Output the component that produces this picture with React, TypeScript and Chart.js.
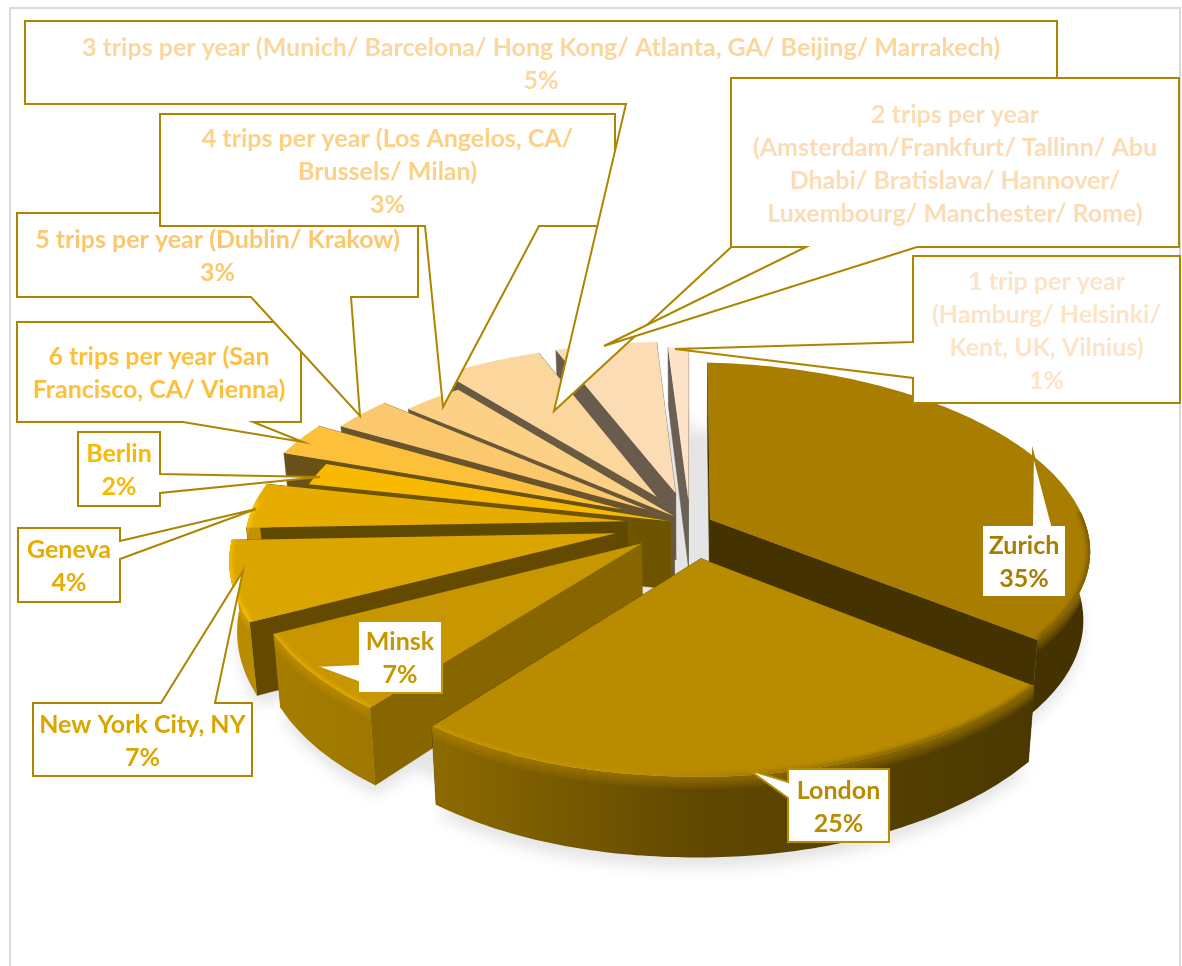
import React, { useEffect, useRef } from "react";
import { Chart, registerables } from "chart.js";

Chart.register(...registerables);

// Share of yearly trips per destination, clockwise from twelve o'clock.
const categories: string[][] = [
  ["Zurich"],
  ["London"],
  ["Minsk"],
  ["New York City, NY"],
  ["Geneva"],
  ["Berlin"],
  ["6 trips per year (San", "Francisco, CA/ Vienna)"],
  ["5 trips per year (Dublin/ Krakow)"],
  ["4 trips per year (Los Angelos, CA/", "Brussels/ Milan)"],
  ["3 trips per year (Munich/ Barcelona/ Hong Kong/ Atlanta, GA/ Beijing/ Marrakech)"],
  ["2 trips per year", "(Amsterdam/Frankfurt/ Tallinn/ Abu", "Dhabi/ Bratislava/ Hannover/", "Luxembourg/ Manchester/ Rome)"],
  ["1 trip per year", "(Hamburg/ Helsinki/", "Kent, UK, Vilnius)"],
];
const shares = [35, 25, 7, 7, 4, 2, 3, 3, 3, 5, 5, 1];
const sharePrinted = [true, true, true, true, true, true, false, true, true, true, false, true];
const explosion = [22, 70, 62, 75, 62, 20, 72, 52, 22, 65, 66, 50];
const faceColors = [
  "#A97D00", "#B88B00", "#C79600", "#DBA500", "#E6AD00", "#F7BA00",
  "#FDC03A", "#FBC86E", "#FCD085", "#FBD69D", "#FBDCB5", "#FDE4C8",
];
const sideShade = [0.4, 0.4, 0.68, 0.45, 0.415, 0.45, 0.42, 0.42, 0.42, 0.42, 0.42, 0.42];

// Callout boxes: [left, top, right, bottom], the box side the pointer leaves from,
// the two pointer base positions along that side, and the pointer tip.
type Side = "top" | "right" | "bottom" | "left";
interface Callout { box: number[]; side: Side; base: number[]; tip: number[] }
const callouts: Callout[] = [
  { box: [982, 525, 1066, 597], side: "top", base: [1032, 1052], tip: [1033, 453] },
  { box: [788, 769, 889, 842], side: "left", base: [782, 798], tip: [749, 770] },
  { box: [358, 621, 442, 693], side: "left", base: [664, 682], tip: [315, 666] },
  { box: [33, 703, 252, 776], side: "top", base: [161, 215], tip: [243, 571] },
  { box: [18, 528, 120, 602], side: "right", base: [541, 559], tip: [256, 509] },
  { box: [78, 432, 160, 506], side: "right", base: [474, 493], tip: [320, 477] },
  { box: [17, 322, 301, 422], side: "bottom", base: [183, 253], tip: [303, 442] },
  { box: [17, 213, 418, 297], side: "bottom", base: [251, 351], tip: [360, 416] },
  { box: [160, 114, 615, 226], side: "bottom", base: [425, 539], tip: [443, 407] },
  { box: [25, 21, 1057, 104], side: "bottom", base: [626, 886], tip: [554, 411] },
  { box: [731, 78, 1179, 247], side: "bottom", base: [806, 917], tip: [604, 346] },
  { box: [913, 256, 1180, 403], side: "left", base: [342, 378], tip: [675, 349] },
];

const BORDER = "#AD8500";
const FONT = 'bold 25px Lato, "Open Sans", sans-serif';
const LINE = 33;

// Tilted, perspective view of the pie plane.
const VIEW = { cx: 690, cy: 524, a: 378, b: 179, k: 0.133, depth: 68, unit: 370, skewY: 8, skewX: 15 };

const project = (x: number, y: number, z: number): [number, number] => {
  const w = 1 + VIEW.k * y;
  const shrink = 1 - z * 0.00025;
  const near = y < 0 ? y * y : 0;
  const lean = x > 0 ? VIEW.skewY * x : VIEW.skewY * 0.6 * x;
  return [
    VIEW.cx + (VIEW.a * x * shrink) / w - VIEW.skewX * near,
    VIEW.cy + (-VIEW.b * y + lean) / w + z / w,
  ];
};

const rgb = (hex: string) => [1, 3, 5].map((i) => parseInt(hex.slice(i, i + 2), 16));
const shade = (hex: string, f: number, alpha = 1) => {
  const [r, g, b] = rgb(hex).map((v) => Math.min(255, Math.round(v * f)));
  return `rgba(${r},${g},${b},${alpha})`;
};

// Wall brightness falls off from the lit left of the pie to its right.
const LIGHT: number[][] = [[230, 0.85], [430, 0.77], [700, 0.52], [1040, 0.4], [1100, 0.4]];
const SPAN = [230, 1100];

interface Slice {
  index: number;
  a0: number;
  a1: number;
  ex: number;
  ey: number;
  color: string;
  midY: number;
}

const rimAngles = (s: Slice) => {
  const out: number[] = [];
  const n = Math.max(2, Math.ceil((s.a1 - s.a0) / 0.015));
  for (let i = 0; i <= n; i++) out.push(s.a0 + ((s.a1 - s.a0) * i) / n);
  return out;
};
const rimPoint = (s: Slice, t: number, z: number) => project(Math.sin(t) + s.ex, Math.cos(t) + s.ey, z);

const poly = (ctx: CanvasRenderingContext2D, pts: number[][]) => {
  ctx.beginPath();
  pts.forEach((p, i) => (i ? ctx.lineTo(p[0], p[1]) : ctx.moveTo(p[0], p[1])));
  ctx.closePath();
};

const sectorPoints = (s: Slice, z: number) => [
  project(s.ex, s.ey, z),
  ...rimAngles(s).map((t) => rimPoint(s, t, z)),
];

function paintGroundShadow(ctx: CanvasRenderingContext2D, slices: Slice[]) {
  ctx.save();
  ctx.filter = "blur(7px)";
  ctx.fillStyle = "rgba(0,0,0,0.1)";
  ctx.beginPath();
  slices.forEach((s) => {
    sectorPoints(s, VIEW.depth + 9).forEach((p, i) => (i ? ctx.lineTo(p[0], p[1]) : ctx.moveTo(p[0], p[1])));
    ctx.closePath();
  });
  // The body of the pie also darkens the ground in the gaps between slices.
  for (let i = 0; i <= 120; i++) {
    const t = (i / 120) * Math.PI * 2;
    const p = project(Math.sin(t) * 1.03, Math.cos(t) * 1.03, VIEW.depth + 9);
    if (i) ctx.lineTo(p[0], p[1]);
    else ctx.moveTo(p[0], p[1]);
  }
  ctx.closePath();
  ctx.fill();
  ctx.restore();
}

function paintSlice(ctx: CanvasRenderingContext2D, s: Slice) {
  const d = VIEW.depth;
  const wall = shade(s.color, sideShade[s.index]);
  const apexTop = project(s.ex, s.ey, 0);
  const apexLow = project(s.ex, s.ey, d);

  // Flat sides running in from the rim to the centre.
  [s.a0, s.a1].forEach((t) => {
    poly(ctx, [apexTop, rimPoint(s, t, 0), rimPoint(s, t, d), apexLow]);
    ctx.fillStyle = wall;
    ctx.fill();
    ctx.strokeStyle = wall;
    ctx.lineWidth = 0.5;
    ctx.stroke();
  });

  // Curved outer wall, only where it faces the viewer.
  const front = rimAngles(s).filter((t) => Math.cos(t) < 0.1);
  const upper = front.map((t) => rimPoint(s, t, 0));
  const lower = front.map((t) => rimPoint(s, t, d));
  if (front.length > 1) {
    const wallPts = [...upper, ...lower.slice().reverse()];
    const grad = ctx.createLinearGradient(SPAN[0], 0, SPAN[1], 0);
    LIGHT.forEach(([x, f]) => grad.addColorStop((x - SPAN[0]) / (SPAN[1] - SPAN[0]), shade(s.color, f)));
    poly(ctx, wallPts);
    ctx.fillStyle = grad;
    ctx.fill();

    // Soft bevel where the wall meets the top face.
    ctx.save();
    poly(ctx, wallPts);
    ctx.clip();
    ctx.filter = "blur(1px)";
    for (let i = 0; i < 14; i++) {
      ctx.beginPath();
      upper.forEach((p, j) => (j ? ctx.lineTo(p[0], p[1] + i) : ctx.moveTo(p[0], p[1] + i)));
      ctx.strokeStyle = shade(s.color, 1.02, (1 - i / 14) * 0.35);
      ctx.lineWidth = 2;
      ctx.stroke();
    }
    ctx.restore();
  }

  // Top face.
  const topPts = sectorPoints(s, 0);
  poly(ctx, topPts);
  ctx.fillStyle = s.color;
  ctx.fill();

  // Rim catches the light on the left and falls into shade on the right.
  if (front.length > 1) {
    const rim = ctx.createLinearGradient(300, 0, 900, 0);
    rim.addColorStop(0, shade(s.color, 1.2, 0.85));
    rim.addColorStop(0.55, shade(s.color, 1.08, 0.45));
    rim.addColorStop(0.75, shade(s.color, 0.8, 0.6));
    rim.addColorStop(1, shade(s.color, 0.62, 0.85));
    ctx.save();
    poly(ctx, topPts);
    ctx.clip();
    ctx.filter = "blur(2px)";
    ctx.beginPath();
    upper.forEach((p, j) => (j ? ctx.lineTo(p[0], p[1]) : ctx.moveTo(p[0], p[1])));
    ctx.strokeStyle = rim;
    ctx.lineWidth = 5;
    ctx.stroke();
    ctx.restore();
  }
}

function calloutOutline(c: Callout): number[][] {
  const [l, t, r, b] = c.box;
  const [p, q] = c.base;
  const pts: number[][] = [[l, t]];
  if (c.side === "top") pts.push([p, t], c.tip, [q, t]);
  pts.push([r, t]);
  if (c.side === "right") pts.push([r, p], c.tip, [r, q]);
  pts.push([r, b]);
  if (c.side === "bottom") pts.push([q, b], c.tip, [p, b]);
  pts.push([l, b]);
  if (c.side === "left") pts.push([l, q], c.tip, [l, p]);
  return pts;
}

function paintCallouts(ctx: CanvasRenderingContext2D) {
  callouts.forEach((c, i) => {
    poly(ctx, calloutOutline(c));
    ctx.fillStyle = "#FFFFFF";
    ctx.fill();
    ctx.strokeStyle = i < 3 ? faceColors[i] : BORDER;
    ctx.lineWidth = 2;
    ctx.lineJoin = "miter";
    ctx.stroke();

    const lines = sharePrinted[i] ? [...categories[i], `${shares[i]}%`] : categories[i];
    const [l, t, r, b] = c.box;
    const mid = (l + r) / 2;
    const first = (t + b) / 2 - ((lines.length - 1) * LINE) / 2 + 1.5;
    ctx.font = FONT;
    ctx.fillStyle = faceColors[i];
    ctx.textAlign = "center";
    ctx.textBaseline = "middle";
    lines.forEach((line, j) => ctx.fillText(line, mid, first + j * LINE));
  });
}

const tiltedPie = {
  id: "tiltedPie",
  beforeDraw(chart: Chart) {
    const { ctx, width, height } = chart;
    ctx.save();
    ctx.fillStyle = "#FFFFFF";
    ctx.fillRect(0, 0, width, height);
    ctx.strokeStyle = "#D9D9D9";
    ctx.lineWidth = 2;
    ctx.strokeRect(10, 8, width - 12, height + 20);
    ctx.restore();
  },
  // The arcs laid out by the pie controller are repainted as thick tilted slices.
  beforeDatasetDraw(chart: Chart) {
    const { ctx } = chart;
    const arcs = chart.getDatasetMeta(0).data as any[];
    const slices: Slice[] = arcs.map((arc, index) => {
      const a0 = arc.startAngle + Math.PI / 2;
      const a1 = arc.endAngle + Math.PI / 2;
      const mid = (a0 + a1) / 2;
      const e = arc.options.offset / VIEW.unit;
      return {
        index, a0, a1,
        ex: Math.sin(mid) * e,
        ey: Math.cos(mid) * e,
        color: faceColors[index],
        midY: Math.cos(mid),
      };
    });
    ctx.save();
    paintGroundShadow(ctx, slices);
    [...slices].sort((p, q) => q.midY - p.midY).forEach((s) => paintSlice(ctx, s));
    ctx.restore();
    return false;
  },
  afterDraw(chart: Chart) {
    chart.ctx.save();
    paintCallouts(chart.ctx);
    chart.ctx.restore();
  },
};

export default function App() {
  const canvasRef = useRef<HTMLCanvasElement>(null);

  useEffect(() => {
    document.body.style.margin = "0";
    document.body.style.overflow = "hidden";
    const chart = new Chart(canvasRef.current!, {
      type: "pie",
      data: {
        labels: categories,
        datasets: [
          {
            data: shares,
            backgroundColor: faceColors,
            offset: explosion,
            borderWidth: 0,
          },
        ],
      },
      options: {
        responsive: false,
        animation: false,
        rotation: 0,
        plugins: { legend: { display: false }, tooltip: { enabled: false } },
      },
      plugins: [tiltedPie],
    } as any);
    return () => chart.destroy();
  }, []);

  return <canvas ref={canvasRef} width={1182} height={966} style={{ display: "block" }} />;
}
